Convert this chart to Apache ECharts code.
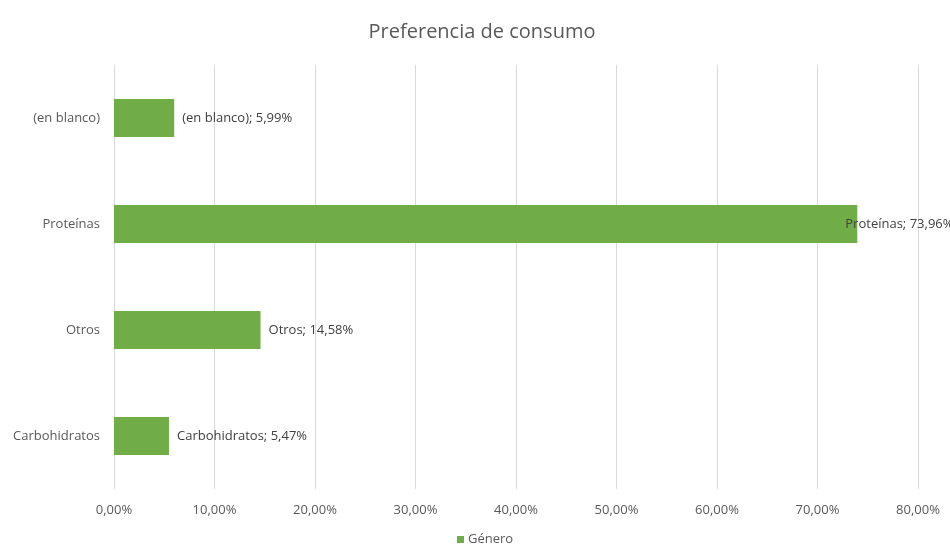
<!DOCTYPE html>
<html>
<head>
<meta charset="utf-8">
<script src="https://cdn.jsdelivr.net/npm/echarts@6/dist/echarts.min.js"></script>
<style>
  html, body { margin: 0; padding: 0; background: #fff; }
  #chart { width: 950px; height: 553px; }
</style>
</head>
<body>
<div id="chart"></div>
<script>
// Categories listed bottom to top (category axis starts at the bottom)
const categories = ['Carbohidratos', 'Otros', 'Proteínas', '(en blanco)'];
const values = [5.47, 14.58, 73.96, 5.99];
const seriesName = 'Género';
const titleText = 'Preferencia de consumo';

const fmtPct = v => v.toFixed(2).replace('.', ',') + '%';
const FONT = '"Open Sans", "Noto Sans", sans-serif';

const chart = echarts.init(document.getElementById('chart'));
chart.setOption({
  animation: false,
  textStyle: { fontFamily: FONT },
  title: {
    text: titleText,
    left: 477,
    textAlign: 'center',
    top: 17,
    textStyle: { fontFamily: FONT, fontSize: 20, fontWeight: 'normal', color: '#595959' }
  },
  legend: {
    data: [seriesName],
    bottom: 2,
    left: 452,
    itemWidth: 7,
    itemHeight: 7,
    itemGap: 4,
    icon: 'rect',
    textStyle: { fontFamily: FONT, fontSize: 13, color: '#595959', padding: [0, 0, 0, -1] }
  },
  grid: { left: 114, right: 32, top: 65, bottom: 64, containLabel: false },
  xAxis: {
    type: 'value',
    min: 0,
    max: 80,
    interval: 10,
    axisLine: { show: false },
    axisTick: { show: false },
    splitLine: { show: true, lineStyle: { color: '#d9d9d9', width: 1 } },
    axisLabel: {
      margin: 15,
      fontFamily: FONT,
      fontSize: 13,
      color: '#595959',
      formatter: v => fmtPct(v)
    }
  },
  yAxis: {
    type: 'category',
    data: categories,
    axisLine: { show: false },
    axisTick: { show: false },
    axisLabel: { margin: 14, fontFamily: FONT, fontSize: 13, color: '#595959' }
  },
  series: [{
    name: seriesName,
    type: 'bar',
    barWidth: 38,
    itemStyle: { color: '#70AD47' },
    data: values.map((v, i) => ({
      value: v,
      label: categories[i] === 'Proteínas' ? { offset: [-20, 0] } : {}
    })),
    label: {
      show: true,
      position: 'right',
      distance: 8,
      fontFamily: FONT,
      fontSize: 13,
      color: '#404040',
      formatter: p => categories[p.dataIndex] + '; ' + fmtPct(p.value)
    }
  }]
});
</script>
</body>
</html>
